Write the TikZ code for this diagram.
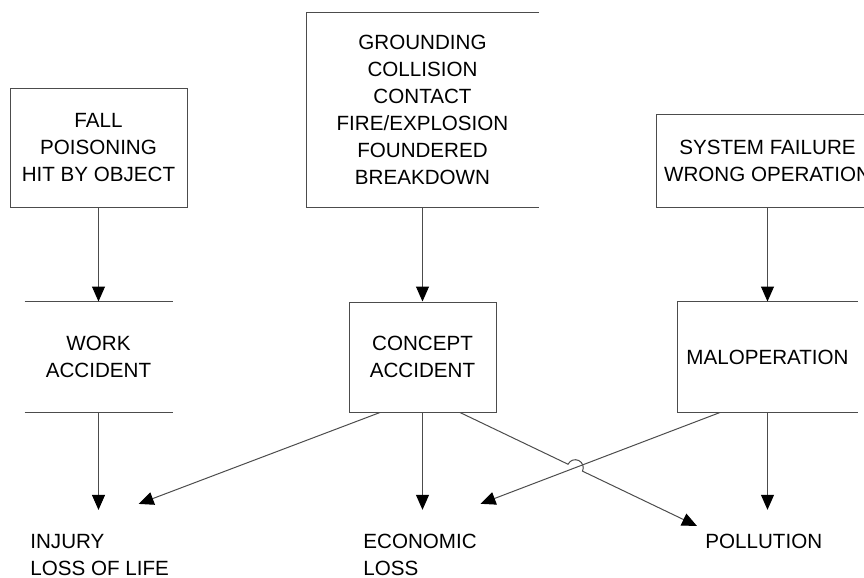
\documentclass[tikz,border=0pt]{standalone}
\usepackage{fontspec}
\setmainfont{Liberation Sans}
\usetikzlibrary{arrows.meta,calc}
\tikzset{box/.style={rectangle,draw=black!70,line width=0.5pt,align=center,inner sep=0pt,font=\fontsize{10.3}{13.5}\selectfont}}
\tikzset{openbox/.style={box,draw=none}}
\tikzset{lbl/.style={anchor=west,align=left,inner sep=0pt,font=\fontsize{10.3}{13.5}\selectfont}}
\tikzset{edge/.style={draw=black!70,line width=0.5pt}}
\tikzset{arr/.style={edge,-{Triangle[length=7.5pt,width=6.5pt,color=black]}}}

\begin{document}
\begin{tikzpicture}[x=0.5pt,y=-0.5pt]
    \useasboundingbox (0,0) rectangle (864,578);
    \clip (0,0) rectangle (864,578);

    \node[box,minimum width=88.5pt,minimum height=59.5pt] (fall) at (98.5,147.5) {FALL\\POISONING\\HIT BY OBJECT};
    \node[openbox,minimum width=116pt,minimum height=97pt] (causes) at (422.5,110) {GROUNDING\\COLLISION\\CONTACT\\FIRE/EXPLOSION\\FOUNDERED\\BREAKDOWN};
    \node[box,minimum width=111pt,minimum height=46.5pt] (sysfail) at (767.5,160.5) {SYSTEM FAILURE\\WRONG OPERATION};

    \node[openbox,minimum width=73.5pt,minimum height=55pt] (work) at (98.5,357) {WORK\\ACCIDENT};
    \node[box,minimum width=73.5pt,minimum height=55pt] (concept) at (422.5,357) {CONCEPT\\ACCIDENT};
    \node[openbox,minimum width=89.5pt,minimum height=55pt] (malop) at (767.5,357) {MALOPERATION};

    \node[lbl] (injury) at (30,555) {INJURY\\LOSS OF LIFE};
    \node[lbl] (economic) at (363,555) {ECONOMIC\\LOSS};
    \node[lbl] (pollution) at (705,541.5) {POLLUTION};

    \draw[edge] (causes.north east) -- (causes.north west) -- (causes.south west) -- (causes.south east);
    \draw[edge] (work.north west) -- (work.north east);
    \draw[edge] (work.south west) -- (work.south east);
    \draw[edge] (malop.north east) -- (malop.north west) -- (malop.south west) -- (malop.south east);

    \draw[arr] (fall) -- (work);
    \draw[arr] (causes) -- (concept);
    \draw[arr] (sysfail) -- (malop);

    \draw[arr,shorten >=12pt] (work.south) -- (work.south |- injury.north);
    \draw[arr,shorten >=12pt] (concept.south) -- (concept.south |- economic.north);
    \draw[arr,shorten >=12pt] (malop.south) -- (malop.south |- pollution.north);
    \draw[arr] ([xshift=-21.25pt]concept.south) -- ([xshift=19.5pt,yshift=15pt]injury.north);

    \coordinate (c2p) at ([xshift=18.75pt]concept.south);
    \coordinate (pin) at ([xshift=-4pt,yshift=7.75pt]pollution.west);
    \coordinate (m2e) at ([xshift=-23.75pt]malop.south);
    \coordinate (ein) at ([xshift=30.25pt,yshift=15pt]economic.north);
    \coordinate (hop) at (intersection of c2p--pin and m2e--ein);

    \draw[arr] (m2e) -- (ein);
    \draw[arr] let \p1=($(pin)-(c2p)$), \n1={atan2(\y1,\x1)} in
        (c2p) -- ($(hop)!4pt!(c2p)$) arc[start angle=\n1+180,end angle=\n1,radius=4pt] -- (pin);
\end{tikzpicture}
\end{document}
